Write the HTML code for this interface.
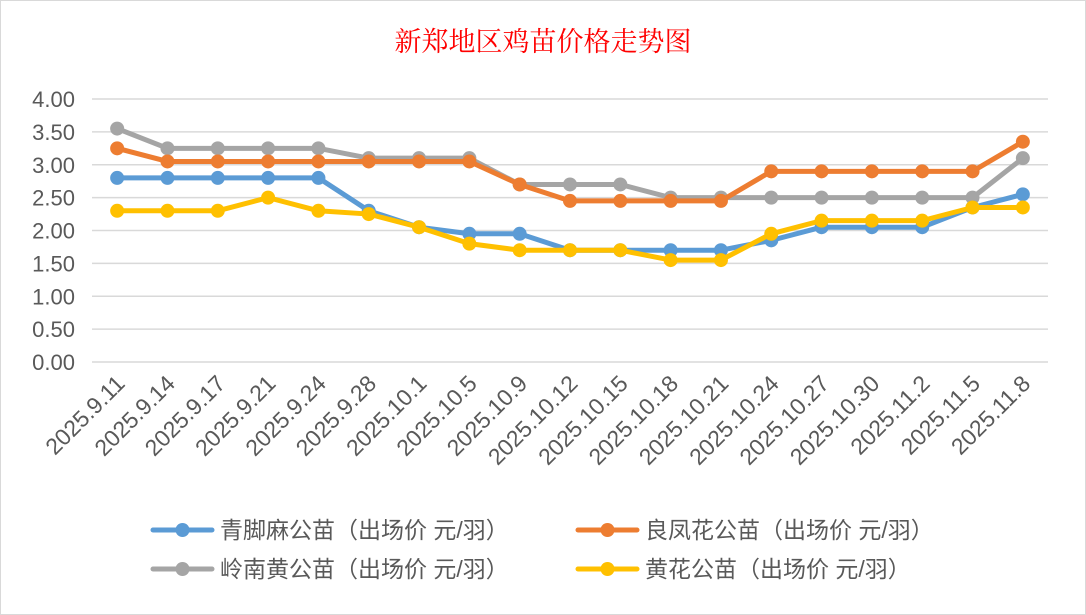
<!DOCTYPE html>
<html><head><meta charset="utf-8"><style>
body{margin:0;background:#fff;}
svg{display:block;font-family:"Liberation Sans","Noto Sans CJK SC",sans-serif;}
</style></head><body>
<svg id="c" width="1086" height="615">
<rect x="0.5" y="0.5" width="1085" height="614" fill="#fff" stroke="#d9d9d9"/>
<text x="543" y="51" text-anchor="middle" font-size="27" fill="#ff0000" font-family="'Liberation Serif','Noto Serif CJK SC',serif">新郑地区鸡苗价格走势图</text>
<g id="grid"></g><g id="xl"></g><g id="series"></g><g id="legend"></g>
</svg>
<script>
const categories=["2025.9.11","2025.9.14","2025.9.17","2025.9.21","2025.9.24","2025.9.28","2025.10.1","2025.10.5","2025.10.9","2025.10.12","2025.10.15","2025.10.18","2025.10.21","2025.10.24","2025.10.27","2025.10.30","2025.11.2","2025.11.5","2025.11.8"];
const yTicks=[0,0.5,1,1.5,2,2.5,3,3.5,4];
const qingjiao=[2.8,2.8,2.8,2.8,2.8,2.3,2.05,1.95,1.95,1.7,1.7,1.7,1.7,1.85,2.05,2.05,2.05,2.35,2.55];
const liangfeng=[3.25,3.05,3.05,3.05,3.05,3.05,3.05,3.05,2.7,2.45,2.45,2.45,2.45,2.9,2.9,2.9,2.9,2.9,3.35];
const lingnan=[3.55,3.25,3.25,3.25,3.25,3.1,3.1,3.1,2.7,2.7,2.7,2.5,2.5,2.5,2.5,2.5,2.5,2.5,3.1];
const huanghua=[2.3,2.3,2.3,2.5,2.3,2.25,2.05,1.8,1.7,1.7,1.7,1.55,1.55,1.95,2.15,2.15,2.15,2.35,2.35];
const seriesNames=["青脚麻公苗（出场价 元/羽）","良凤花公苗（出场价 元/羽）","岭南黄公苗（出场价 元/羽）","黄花公苗（出场价 元/羽）"];
const NS="http://www.w3.org/2000/svg";
const x0=92,x1=1048,yBase=362,yTop=99,yMax=4;
const step=(x1-x0)/categories.length;
const X=i=>x0+step*(i+0.5);
const Y=v=>yBase-(v/yMax)*(yBase-yTop);
function mk(t,a,p){const e=document.createElementNS(NS,t);for(const k in a)e.setAttribute(k,a[k]);p.appendChild(e);return e;}
const grid=document.getElementById('grid');
yTicks.forEach(v=>{
  const l=mk('line',{x1:x0,x2:x1,y1:Y(v),y2:Y(v),stroke:'#d9d9d9','stroke-width':1.5},grid);
  
  
  const t=mk('text',{x:75,y:Y(v)+8,'text-anchor':'end','font-size':22,fill:'#595959'},grid);
  t.textContent=v.toFixed(2);
  
  
});
const xl=document.getElementById('xl');
categories.forEach((c,i)=>{
  const t=mk('text',{x:X(i)+9,y:385,'text-anchor':'end','font-size':23,fill:'#595959',transform:`rotate(-45 ${X(i)+9} 385)`},xl);
  t.textContent=c;
  
  
});
const colors=['#5b9bd5','#ed7d31','#a5a5a5','#ffc000'];
const data=[qingjiao,liangfeng,lingnan,huanghua];
const sg=document.getElementById('series');
[2,1,0,3].forEach(k=>{
  const g=mk('g',{},sg);
  
  
  const p=mk('polyline',{points:data[k].map((v,i)=>X(i)+','+Y(v)).join(' '),fill:'none',stroke:colors[k],'stroke-width':5,'stroke-linejoin':'round'},g);
  
  
  data[k].forEach((v,i)=>{
    const c=mk('circle',{cx:X(i),cy:Y(v),r:7,fill:colors[k]},g);
    
    
  });
});
const lg=document.getElementById('legend');
const pos=[[153,530],[578,530],[153,569],[578,569]];
[0,1,2,3].forEach(k=>{
  const [lx,ly]=pos[k];
  const g=mk('g',{},lg);
  
  
  mk('line',{x1:lx,x2:lx+59,y1:ly,y2:ly,stroke:colors[k],'stroke-width':5,'stroke-linecap':'round'},g);
  mk('circle',{cx:lx+29.5,cy:ly,r:7,fill:colors[k]},g);
  const t=mk('text',{x:lx+67,y:ly+8,'font-size':23,fill:'#595959'},g);
  t.textContent=seriesNames[k];
});
</script>
</body></html>
